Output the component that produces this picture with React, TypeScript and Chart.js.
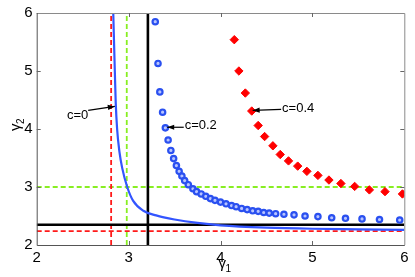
import React, { useEffect, useRef } from "react";
import { Chart, registerables } from "chart.js";

Chart.register(...registerables);

// c = 0 (solid curve)
const c0X = [2.833, 2.85, 2.86, 2.875, 2.9, 2.93, 2.985, 3.05, 3.16, 3.3, 3.5, 3.75, 4.0, 4.5, 5.0, 5.5, 6.0];
const c0Y = [6.0, 5.0, 4.45, 4.0, 3.61, 3.33, 3.0, 2.76, 2.59, 2.51, 2.44, 2.38, 2.34, 2.3, 2.28, 2.27, 2.26];

// c = 0.2 (circles)
const c02X = [3.29, 3.32, 3.34, 3.37, 3.4, 3.43, 3.46, 3.49, 3.52, 3.55, 3.58, 3.61, 3.65, 3.7, 3.74, 3.79, 3.84, 3.89, 3.94, 4.0, 4.06, 4.12, 4.17, 4.23, 4.29, 4.35, 4.41, 4.47, 4.53, 4.6, 4.69, 4.8, 4.92, 5.06, 5.21, 5.36, 5.54, 5.73, 5.95];
const c02Y = [5.85, 5.13, 4.64, 4.29, 4.02, 3.81, 3.63, 3.49, 3.37, 3.27, 3.19, 3.11, 3.04, 2.97, 2.92, 2.88, 2.84, 2.8, 2.77, 2.74, 2.71, 2.68, 2.66, 2.63, 2.61, 2.59, 2.58, 2.56, 2.55, 2.54, 2.53, 2.52, 2.5, 2.49, 2.47, 2.46, 2.45, 2.44, 2.43];

// c = 0.4 (diamonds)
const c04X = [4.15, 4.2, 4.27, 4.34, 4.41, 4.48, 4.57, 4.65, 4.74, 4.84, 4.94, 5.06, 5.18, 5.31, 5.46, 5.62, 5.79, 5.98];
const c04Y = [5.54, 5.0, 4.62, 4.31, 4.06, 3.87, 3.71, 3.56, 3.45, 3.36, 3.27, 3.2, 3.12, 3.06, 3.01, 2.95, 2.92, 2.88];

// reference lines
const redDashX = 2.81;
const greenDashX = 2.98;
const blackX = 3.21;
const redDashY = 2.24;
const greenDashY = 3.0;
const blackY = 2.35;

const xRange = [2, 6];
const yRange = [2, 6];
const xTicks = [2, 3, 4, 5, 6];
const yTicks = [2, 3, 4, 5, 6];

// annotations (data coordinates)
const annoLabels = ["c=0", "c=0.2", "c=0.4"];
const annoHeadX = [2.85, 3.42, 4.35];
const annoHeadY = [4.39, 4.03, 4.32];
const annoTailX = [2.56, 3.6, 4.66];
const annoTailY = [4.32, 4.03, 4.34];
const annoTextX = [2.33, 3.61, 4.67];
const annoTextY = [4.24, 4.06, 4.36];

const FONT = "'Liberation Sans', Arial, Helvetica, sans-serif";

const pts = (xs: number[], ys: number[]) => xs.map((x, i) => ({ x, y: ys[i] }));

const overlayPlugin = {
  id: "overlay",
  afterDatasetsDraw(chart: any) {
    const { ctx, chartArea, scales } = chart;
    const xs = scales.x;
    const ys = scales.y;
    const { left, right, top, bottom } = chartArea;
    ctx.save();
    // frame
    ctx.lineWidth = 1;
    ctx.strokeStyle = "#8a8a8a";
    ctx.beginPath();
    ctx.moveTo(left, top + 0.5);
    ctx.lineTo(right + 0.5, top + 0.5);
    ctx.lineTo(right + 0.5, bottom);
    ctx.stroke();
    ctx.strokeStyle = "#555";
    ctx.beginPath();
    ctx.moveTo(left + 0.5, top);
    ctx.lineTo(left + 0.5, bottom + 0.5);
    ctx.lineTo(right + 0.5, bottom + 0.5);
    ctx.stroke();
    // inward ticks
    ctx.strokeStyle = "#666";
    const tl = 4;
    xTicks.forEach((v) => {
      const px = Math.round(xs.getPixelForValue(v)) + 0.5;
      if (v === xRange[0] || v === xRange[1]) return;
      ctx.beginPath();
      ctx.moveTo(px, bottom);
      ctx.lineTo(px, bottom - tl);
      ctx.moveTo(px, top);
      ctx.lineTo(px, top + tl);
      ctx.stroke();
    });
    yTicks.forEach((v) => {
      const py = Math.round(ys.getPixelForValue(v)) + 0.5;
      if (v === yRange[0] || v === yRange[1]) return;
      ctx.beginPath();
      ctx.moveTo(left, py);
      ctx.lineTo(left + tl, py);
      ctx.moveTo(right, py);
      ctx.lineTo(right - tl, py);
      ctx.stroke();
    });
    // annotations
    ctx.fillStyle = "#000";
    ctx.strokeStyle = "#000";
    ctx.lineWidth = 1.2;
    ctx.font = `13px ${FONT}`;
    ctx.textBaseline = "middle";
    ctx.textAlign = "left";
    annoLabels.forEach((lab, i) => {
      const hx = xs.getPixelForValue(annoHeadX[i]);
      const hy = ys.getPixelForValue(annoHeadY[i]);
      const tx = xs.getPixelForValue(annoTailX[i]);
      const ty = ys.getPixelForValue(annoTailY[i]);
      ctx.beginPath();
      ctx.moveTo(tx, ty);
      ctx.lineTo(hx, hy);
      ctx.stroke();
      const ang = Math.atan2(hy - ty, hx - tx);
      const al = 7;
      const aw = 2.6;
      ctx.beginPath();
      ctx.moveTo(hx, hy);
      ctx.lineTo(hx - al * Math.cos(ang) + aw * Math.sin(ang), hy - al * Math.sin(ang) - aw * Math.cos(ang));
      ctx.lineTo(hx - al * Math.cos(ang) - aw * Math.sin(ang), hy - al * Math.sin(ang) + aw * Math.cos(ang));
      ctx.closePath();
      ctx.fill();
      ctx.fillText(lab, xs.getPixelForValue(annoTextX[i]), ys.getPixelForValue(annoTextY[i]));
    });
    // axis titles
    ctx.font = `15px ${FONT}`;
    ctx.textBaseline = "alphabetic";
    const cx = (left + right) / 2 + 2;
    ctx.fillText("γ", cx - 4, 268);
    ctx.font = `10px ${FONT}`;
    ctx.fillText("1", cx + 3, 272);
    ctx.translate(20, 126);
    ctx.rotate(-Math.PI / 2);
    ctx.font = `15px ${FONT}`;
    ctx.fillText("γ", -5, 0);
    ctx.font = `10px ${FONT}`;
    ctx.fillText("2", 2, 4);
    ctx.restore();
  },
};

export default function App() {
  const ref = useRef<HTMLCanvasElement | null>(null);
  useEffect(() => {
    document.body.style.margin = "0";
    if (!ref.current) return;
    const lineDs = (data: any[], color: string, width: number, dash: number[], order: number) => ({
      type: "line",
      data,
      borderColor: color,
      borderWidth: width,
      borderDash: dash,
      pointRadius: 0,
      showLine: true,
      fill: false,
      order,
    });
    const chart = new Chart(ref.current, {
      type: "scatter",
      data: {
        datasets: [
          lineDs([{ x: redDashX, y: yRange[0] }, { x: redDashX, y: yRange[1] }], "#ff1a1a", 1.8, [5, 3], 6),
          lineDs([{ x: xRange[0], y: redDashY }, { x: xRange[1], y: redDashY }], "#ff1a1a", 1.8, [5, 3], 6),
          lineDs([{ x: greenDashX, y: yRange[0] }, { x: greenDashX, y: yRange[1] }], "#88ee22", 1.8, [5, 3], 6),
          lineDs([{ x: xRange[0], y: greenDashY }, { x: xRange[1], y: greenDashY }], "#88ee22", 1.8, [5, 3], 6),
          lineDs([{ x: blackX, y: yRange[0] }, { x: blackX, y: yRange[1] }], "#000", 2.6, [], 4),
          lineDs([{ x: xRange[0], y: blackY }, { x: xRange[1], y: blackY }], "#000", 2.6, [], 4),
          {
            ...lineDs(pts(c0X, c0Y), "#3355ff", 2.2, [], 3),
            cubicInterpolationMode: "monotone",
          },
          {
            type: "scatter",
            data: pts(c02X, c02Y),
            pointStyle: "circle",
            pointRadius: 2.7,
            pointBorderWidth: 2.2,
            borderColor: "#2a50f0",
            backgroundColor: "#b8c4ff",
            showLine: false,
            order: 2,
          },
          {
            type: "scatter",
            data: pts(c04X, c04Y),
            pointStyle: "rectRot",
            pointRadius: 4.2,
            pointBorderWidth: 1,
            borderColor: "#ff0000",
            backgroundColor: "#ff0000",
            showLine: false,
            order: 1,
          },
        ] as any,
      },
      options: {
        animation: false,
        responsive: false,
        maintainAspectRatio: false,
        events: [],
        layout: { padding: { top: 10, right: 10.7, left: 0, bottom: 0 } },
        plugins: { legend: { display: false }, tooltip: { enabled: false } },
        scales: {
          x: {
            type: "linear",
            min: xRange[0],
            max: xRange[1],
            afterBuildTicks: (s: any) => {
              s.ticks = xTicks.map((v) => ({ value: v }));
            },
            afterFit: (s: any) => {
              s.height = 32;
            },
            ticks: { font: { size: 15, family: FONT }, color: "#000", padding: 4, maxRotation: 0 },
            grid: { display: false, drawTicks: false },
            border: { display: false },
          },
          y: {
            type: "linear",
            min: yRange[0],
            max: yRange[1],
            afterBuildTicks: (s: any) => {
              s.ticks = yTicks.map((v) => ({ value: v }));
            },
            afterFit: (s: any) => {
              s.width = 36.7;
            },
            ticks: { font: { size: 15, family: FONT }, color: "#000", padding: 4 },
            grid: { display: false, drawTicks: false },
            border: { display: false },
          },
        },
      } as any,
      plugins: [overlayPlugin],
    });
    return () => chart.destroy();
  }, []);
  return (
    <div style={{ width: 415, height: 277, background: "#fff" }}>
      <canvas ref={ref} width={415} height={277} style={{ display: "block" }} />
    </div>
  );
}
